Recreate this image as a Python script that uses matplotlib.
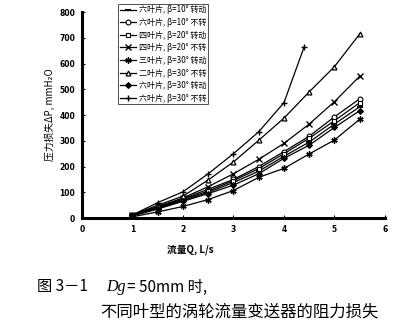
import matplotlib
matplotlib.use("Agg")
import matplotlib.pyplot as plt

plt.rcParams['font.family'] = ['Noto Sans CJK SC', 'DejaVu Sans']

# flow rate Q, L/s
q = [1, 1.5, 2, 2.5, 3, 3.5, 4, 4.5, 5, 5.5]
q_short = [1, 1.5, 2, 2.5, 3, 3.5, 4, 4.4]

# pressure loss, mmH2O
six_10_rot = [10, 38, 68, 100, 138, 182, 240, 295, 365, 432]
six_10_fix = [12, 42, 75, 112, 150, 200, 258, 318, 393, 463]
four_20_rot = [10, 40, 72, 105, 145, 192, 250, 310, 378, 448]
four_20_fix = [12, 45, 78, 122, 172, 228, 290, 365, 452, 551]
three_30_rot = [5, 24, 45, 72, 107, 158, 193, 249, 303, 384]
two_30_fix = [12, 50, 85, 148, 218, 302, 388, 490, 588, 715]
six_30_rot = [8, 35, 65, 95, 128, 172, 232, 283, 352, 417]
six_30_fix = [12, 60, 102, 172, 250, 335, 448, 665]

labels = [
    "六叶片, β=10° 转动",
    "六叶片, β=10° 不转",
    "四叶片, β=20° 转动",
    "四叶片, β=20° 不转",
    "三叶片, β=30° 转动",
    "二叶片, β=30° 不转",
    "六叶片, β=30° 转动",
    "六叶片, β=30° 不转",
]

series = [
    (q, six_10_rot, dict(marker="_", ms=5, mew=1.5)),
    (q, six_10_fix, dict(marker="o", ms=3.5, mfc="white", mew=0.8)),
    (q, four_20_rot, dict(marker="s", ms=3.5, mfc="white", mew=0.8)),
    (q, four_20_fix, dict(marker="x", ms=4, mew=1.0)),
    (q, three_30_rot, dict(marker=(6, 2, 0), ms=4.5, mew=1.0)),
    (q, two_30_fix, dict(marker="^", ms=3.5, mfc="white", mew=0.9)),
    (q, six_30_rot, dict(marker="D", ms=3, mew=0.8)),
    (q_short, six_30_fix, dict(marker="+", ms=4.5, mew=1.0)),
]

fig = plt.figure(figsize=(4.18, 3.25), dpi=100)
ax = fig.add_axes([0.196, 0.329, 0.725, 0.634])

for (xs, ys, style), lab in zip(series, labels):
    ax.plot(xs, ys, color="black", lw=0.9, label=lab, **style)

ax.set_xlim(0, 6)
ax.set_ylim(0, 800)
ax.set_xticks(range(0, 7))
ax.set_yticks(range(0, 801, 100))
ax.spines['top'].set_visible(False)
ax.spines['right'].set_visible(False)
ax.spines['left'].set_linewidth(2.2)
ax.spines['bottom'].set_linewidth(2.2)
ax.tick_params(direction="in", length=2, width=0.8, labelsize=5.5, pad=5)
for t in ax.get_xticklabels() + ax.get_yticklabels():
    t.set_fontweight("bold")
    t.set_family("DejaVu Sans")

ax.set_ylabel("压力损失ΔP, mmH₂O", fontsize=7, labelpad=3)
fig.text(190 / 418, 1 - 250 / 325, "流量Q, L/s", fontsize=7,
         ha="center", va="center", fontweight="bold")

leg = ax.legend(loc="upper left", bbox_to_anchor=(0.12, 1.04), fontsize=5.8,
                frameon=True, fancybox=False, edgecolor="black",
                handlelength=2.0, handletextpad=0.4, labelspacing=0.45,
                borderpad=0.2, borderaxespad=0)
leg.get_frame().set_linewidth(0.6)

fig.text(37 / 418, 1 - 287 / 325, "图 3－1", fontsize=11, va="center")
fig.text(106 / 418, 1 - 287 / 325, "Dg", fontsize=11.5, va="center",
         family="Liberation Serif", style="italic")
fig.text(127 / 418, 1 - 287 / 325, "= 50mm 时,", fontsize=11, va="center")
fig.text(100 / 418, 1 - 312 / 325, "不同叶型的涡轮流量变送器的阻力损失",
         fontsize=11.8, va="center")

fig.savefig("out.png", dpi=100)
